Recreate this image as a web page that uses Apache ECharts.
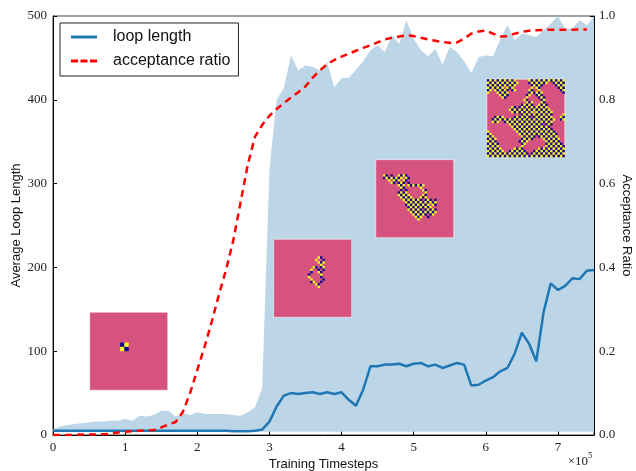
<!DOCTYPE html>
<html>
<head>
<meta charset="utf-8">
<script src="https://cdn.jsdelivr.net/npm/echarts@6.0.0/dist/echarts.min.js"></script>
<style>
  html, body { margin: 0; padding: 0; background: #fff; }
  #chart { width: 636px; height: 471px; }
</style>
</head>
<body>
<div id="chart"></div>
<script>
// training timesteps, in units of 1e4
const steps = [0, 1, 2, 3, 4, 5, 6, 7, 8, 9, 10, 11, 12, 13, 14, 15, 16, 17, 18, 19,
  20, 21, 22, 23, 24, 25, 26, 27, 28, 29, 30, 31, 32, 33, 34, 35, 36, 37, 38, 39,
  40, 41, 42, 43, 44, 45, 46, 47, 48, 49, 50, 51, 52, 53, 54, 55, 56, 57, 58, 59,
  60, 61, 62, 63, 64, 65, 66, 67, 68, 69, 70, 71, 72, 73, 74, 75];

// mean loop length
const loopLength = [5, 5, 5, 5, 5, 5, 5, 5, 5, 5, 5, 5, 5, 5, 5, 5, 5, 5, 5, 5,
  5, 5, 5, 5, 5, 4.5, 4.5, 4.5, 5, 6.5, 16, 34, 47, 50, 49, 50, 51, 49, 51, 49,
  51, 42, 35, 54, 82, 82, 84, 84, 85, 82, 85, 86, 82, 84, 80, 83, 86, 84, 59, 60,
  65, 69, 76, 80, 97, 122, 109, 88, 146, 181, 173, 178, 187, 186, 196, 197];

// upper edge of the shaded spread
const loopUpper = [7, 10, 12, 13, 14, 15, 16, 16, 17, 17, 19, 17, 23, 22, 24, 29, 29, 22, 26, 24,
  27, 25, 25, 25, 25, 24, 23, 27, 33, 56, 316, 400, 414, 453, 435, 441, 439, 435, 445, 415,
  426, 426, 436, 446, 459, 465, 457, 477, 467, 495, 473, 459, 452, 461, 442, 463, 457, 446, 432, 451,
  453, 452, 472, 489, 471, 479, 477, 475, 483, 491, 500, 485, 485, 495, 489, 499];
const loopMin = 4;

// acceptance ratio (right axis), last point at 7.4e5
const acceptance = [0, 0, 0, 0, 0.001, 0.001, 0.001, 0.002, 0.003, 0.006,
  0.008, 0.009, 0.01, 0.011, 0.012, 0.018, 0.025, 0.031, 0.055, 0.1,
  0.155, 0.21, 0.27, 0.335, 0.395, 0.465, 0.555, 0.645, 0.712, 0.74,
  0.762, 0.778, 0.792, 0.805, 0.818, 0.832, 0.853, 0.87, 0.885, 0.895,
  0.903, 0.91, 0.917, 0.924, 0.93, 0.937, 0.944, 0.948, 0.951, 0.954,
  0.952, 0.948, 0.944, 0.941, 0.938, 0.936, 0.937, 0.946, 0.958, 0.963,
  0.965, 0.958, 0.951, 0.952, 0.958, 0.962, 0.965, 0.966, 0.967, 0.967,
  0.967, 0.967, 0.967, 0.968, 0.968];

const xTicks = ['0', '1', '2', '3', '4', '5', '6', '7'];

// lattice snapshots shown as insets (centre in data coords)
const insetX = [105000, 360000, 501500, 655500];
const insetY = [100, 187, 282, 378];
const insetSize = [18, 32, 32, 32];
const insetRows = [
  ['', '', '', '', '', '', '', '.......xx', '.......xx'],
  ['', '', '', '', '', '', '',
    '..................xx',
    '.................x..x',
    '..................xxx',
    '...................x',
    '................xx.xx',
    '...............x..x.x',
    '...............x..xx',
    '..............x....x',
    '..............x....x',
    '...............x....x',
    '...............xx..x',
    '.................xx',
    '..................x'],
  ['', '', '', '', '', '',
    '...xx.x..xxxx',
    '...xxxxxxxx.xx',
    '.....x.xxx.xx',
    '......xx.xxx.x',
    '.........xxx.xxxxxxx',
    '..........xx......x',
    '..........x.x......xx',
    '.........xxxx.......x',
    '.........xxxxx.....xx',
    '..........xxxxx...xxx',
    '...........xxxxxxxx.xxx.x',
    '............xxxxxxxxxxxxx',
    '............xxxxxxxxxx.xx',
    '.............xxxxxxxxxx',
    '.............xxxxxx.xxxxx',
    '..............xxxxxxxxxxx',
    '...............xxxxxx.xx',
    '................xxx..x',
    '.................x'],
  ['xxxxxxxxxxxx.....xxxxxxxxxxxxxxx',
    'xxxxxxxxxxxxx....xxxxxxxx..xxxxx',
    'xxxxxxxxxxxx......xxxxx.....xxxx',
    'xxxxxxx.xxx.......x.xx.......xxx',
    'xx.xxxxxx.xx.....xx..x........xx',
    'x...xxxxx........xxxxxx........x',
    '.....xxxx.......xx..xxx.........',
    '......xx........x....xxx........',
    '...............xx.....xx........',
    '................xxx...xx........',
    '..............xxxxx..xxxx.......',
    '..........xx.xxxxxxxxxxxx.......',
    '.........xxxxxxxxxxxxxxxxx......',
    '..........xxxxxxxxx.xxxxxxx.....',
    '..............xxxxxxxxxxxxx....x',
    '...xxxx....xxxxxxx.xxxxxxxx...xx',
    '..xxxxxxxxxxxxxxxxxxxxxxxxxx..xx',
    '..xxx..xxxxxxxxxxxxxxxxxxxx.....',
    '.........xxxxxxxxxxxxxx.xxx.....',
    '..........xxxxxxxxxxxxxxxx......',
    '...........xxxxxxxxxxxxxxxx.....',
    'x...........xxxxxxxxxxxxxxxx....',
    'xx...........xxxxxxxxxxxxxxxx...',
    'xxx...........xxxxxx.xxxxxxxx...',
    'xxxx..........xxxxx....xxxxxxx..',
    'xxxx.........xxxx.......xxxxxx..',
    'xxxxx.........xx........xxxxxxx.',
    'xxxxx.........x.........xxxxxxxx',
    'xxxxxx.....xxxx......xxxxxxxxxxx',
    'xxxxxxx..xxxxxxx...xxxxxxxxxxxxx',
    'xxxxxxxxxxxxxxxxx.xxxxxxxxxxxxxx',
    'xxxxxxxxxxxxxxxxxxxxxxxxxxxxxxxx']
];

const PINK = '#d6527f';
const YELLOW = '#f0f921';
const NAVY = '#0d0887';
const BOX = 78;

const toPairs = (ys) => ys.map((y, i) => [steps[i] * 1e4, y]);

function renderInset(params, api) {
  const idx = api.value(2);
  const c = api.coord([api.value(0), api.value(1)]);
  const n = insetSize[idx];
  const cell = BOX / n;
  const x0 = c[0] - BOX / 2;
  const y0 = c[1] - BOX / 2;
  const children = [{
    type: 'rect',
    shape: { x: x0, y: y0, width: BOX, height: BOX },
    style: { fill: PINK, stroke: 'rgba(255,255,255,0.55)', lineWidth: 1 }
  }];
  insetRows[idx].forEach((row, r) => {
    for (let k = 0; k < row.length; k++) {
      if (row[k] !== 'x') continue;
      children.push({
        type: 'rect',
        shape: { x: x0 + k * cell, y: y0 + r * cell, width: cell, height: cell },
        style: { fill: (r + k) % 2 === 0 ? NAVY : YELLOW }
      });
    }
  });
  return { type: 'group', children: children };
}

const chart = echarts.init(document.getElementById('chart'));
const serif = 'Liberation Serif';
const sans = 'Liberation Sans';

chart.setOption({
  animation: false,
  backgroundColor: '#fff',
  grid: {
    left: 53, right: 42, top: 16, bottom: 36,
    outerBoundsMode: 'none', containLabel: false,
    show: true, borderColor: '#444', borderWidth: 1
  },
  legend: {
    left: 60, top: 23,
    orient: 'vertical',
    backgroundColor: '#fff',
    borderColor: '#222', borderWidth: 1,
    padding: [6, 8, 7, 11],
    itemGap: 8,
    itemWidth: 26, itemHeight: 3,
    textStyle: { fontFamily: sans, fontSize: 16, color: '#111', lineHeight: 16, padding: [0, 0, 0, 11] },
    data: [
      { name: 'loop length', icon: 'path://M0,0H26V3H0Z' },
      { name: 'acceptance ratio', icon: 'path://M0,0H7V3H0Z M9.5,0H16.5V3H9.5Z M19,0H26V3H19Z' }
    ]
  },
  xAxis: {
    type: 'value', min: 0, max: 750000, interval: 100000,
    name: 'Training Timesteps', nameLocation: 'middle', nameGap: 23, nameMoveOverlap: false,
    nameTextStyle: { fontFamily: sans, fontSize: 13, color: '#111' },
    axisLine: { lineStyle: { color: '#000', width: 1 } },
    axisTick: { inside: true, length: 4, lineStyle: { color: '#000' } },
    axisLabel: {
      fontFamily: serif, fontSize: 13, color: '#222', margin: 6,
      formatter: (v) => (v % 100000 === 0 ? xTicks[v / 100000] : '')
    },
    splitLine: { show: false }
  },
  yAxis: [{
    type: 'value', min: 0, max: 500, interval: 100,
    name: 'Average Loop Length', nameLocation: 'middle', nameGap: 30, nameRotate: 90, nameMoveOverlap: false,
    nameTextStyle: { fontFamily: sans, fontSize: 13, color: '#111' },
    axisLine: { show: true, lineStyle: { color: '#000', width: 1 } },
    axisTick: { show: true, inside: true, length: 4, lineStyle: { color: '#000' } },
    axisLabel: { fontFamily: serif, fontSize: 13, color: '#222', margin: 6 },
    splitLine: { show: false }
  }, {
    type: 'value', min: 0, max: 1, interval: 0.2, position: 'right',
    name: 'Acceptance Ratio', nameLocation: 'middle', nameGap: 26, nameRotate: -90, nameMoveOverlap: false,
    nameTextStyle: { fontFamily: sans, fontSize: 13, color: '#111' },
    axisLine: { show: true, lineStyle: { color: '#000', width: 1 } },
    axisTick: { show: true, inside: true, length: 4, lineStyle: { color: '#000' } },
    axisLabel: { fontFamily: serif, fontSize: 13, color: '#222', margin: 5, formatter: (v) => v.toFixed(1) },
    splitLine: { show: false }
  }],
  graphic: [
    { type: 'text', x: 588, y: 462, style: { text: '×10', align: 'right', verticalAlign: 'middle', font: '13px "Liberation Serif"', fill: '#222' } },
    { type: 'text', x: 588, y: 456, style: { text: '5', align: 'left', verticalAlign: 'middle', font: '9px "Liberation Serif"', fill: '#222' } }
  ],
  series: [{
    name: 'spread',
    type: 'line',
    data: toPairs(loopUpper),
    symbol: 'none',
    lineStyle: { width: 0 },
    itemStyle: { color: '#bcd6e8' },
    areaStyle: { color: '#bcd6e8', opacity: 1, origin: loopMin },
    z: 1
  }, {
    name: 'snapshots',
    type: 'custom',
    renderItem: renderInset,
    data: insetX.map((x, i) => [x, insetY[i], i]),
    encode: { x: 0, y: 1 },
    clip: false,
    z: 2
  }, {
    name: 'loop length',
    type: 'line',
    data: toPairs(loopLength),
    symbol: 'none',
    color: '#1f77b4',
    lineStyle: { width: 2.5, color: '#1f77b4' },
    z: 3
  }, {
    name: 'acceptance ratio',
    type: 'line',
    yAxisIndex: 1,
    data: toPairs(acceptance),
    symbol: 'none',
    color: '#ff0000',
    lineStyle: { width: 2.5, color: '#ff0000', type: [7, 5] },
    z: 4
  }]
});
</script>
</body>
</html>
